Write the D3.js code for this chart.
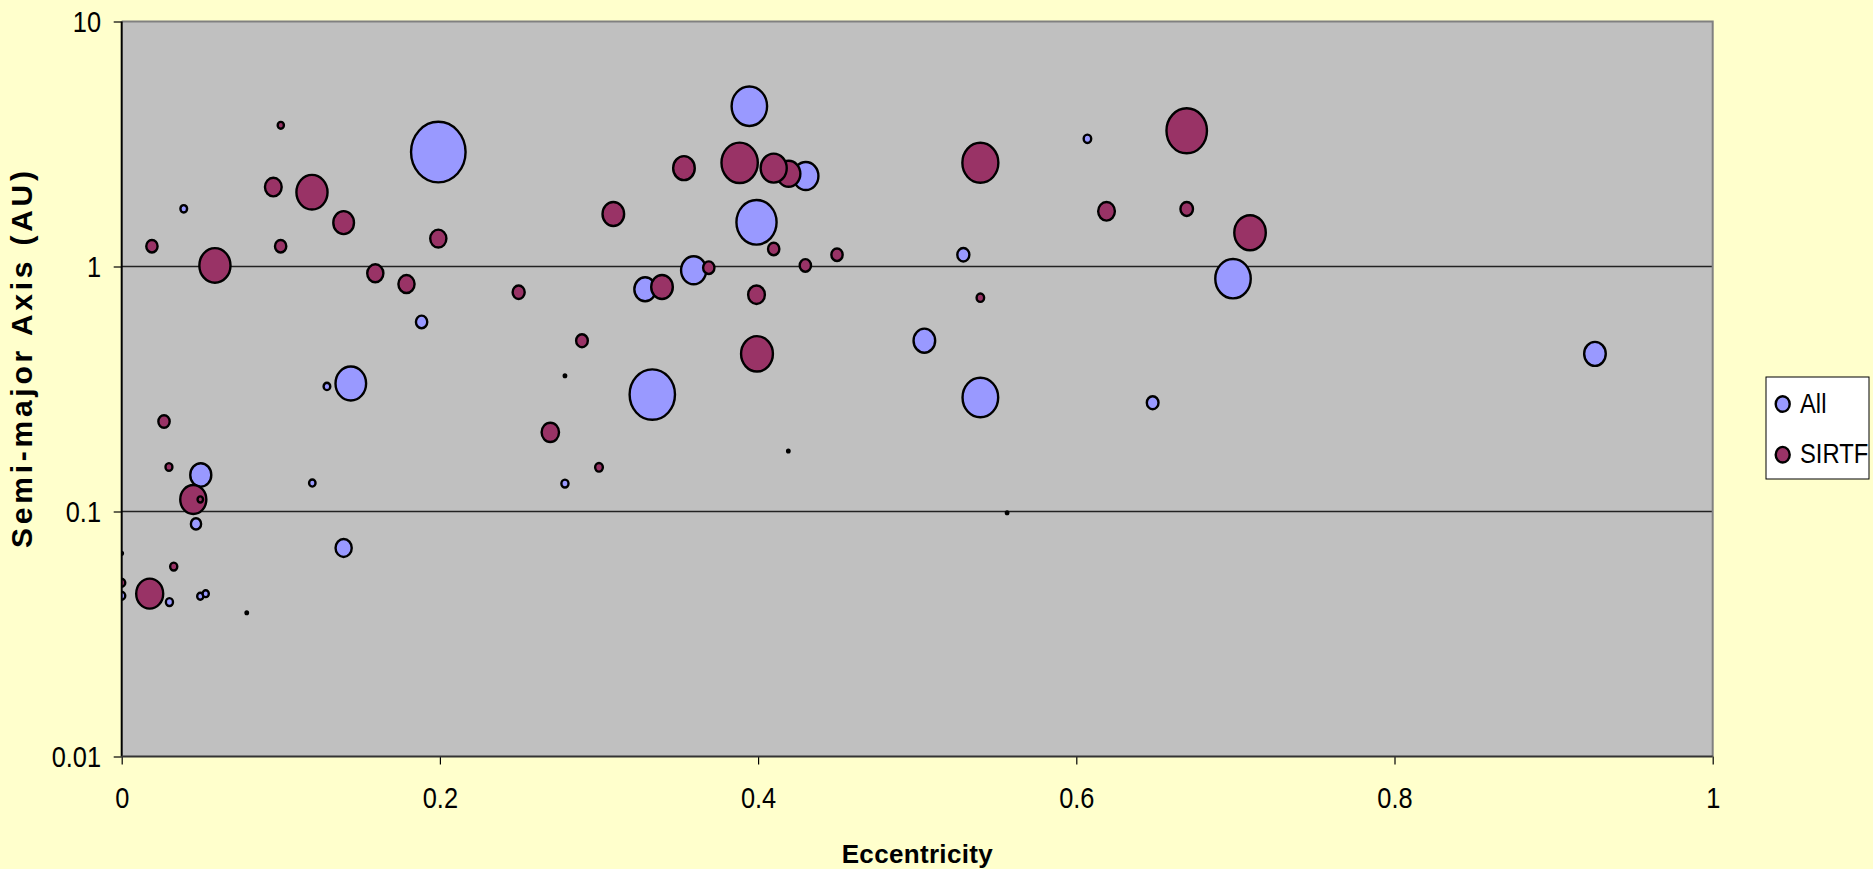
<!DOCTYPE html>
<html>
<head>
<meta charset="utf-8">
<script src="https://cdn.jsdelivr.net/npm/d3@7/dist/d3.min.js"></script>
<style>
  body { margin: 0; background: #FFFFCC; overflow: hidden; }
  text { font-family: "Liberation Sans", Arial, sans-serif; fill: #000; }
</style>
</head>
<body>
<div id="chart"></div>
<script>
// bubble chart: eccentricità vs semiasse maggiore, dimensione = massa
// valori (stime)

const seriesNames = ['All', 'SIRTF'];
const seriesColors = ['#9999FF', '#993366'];

// serie "All": e = eccentricità, a = semiasse (AU), m = dimensione bolla
const allData = [
    { e: 0.039, a: 1.72, m: 0.15 },
    { e: 0.199, a: 2.93, m: 10 },
    { e: 0.1885, a: 0.594, m: 0.43 },
    { e: 0.144, a: 0.333, m: 3.15 },
    { e: 0.129, a: 0.324, m: 0.15 },
    { e: 0.0497, a: 0.141, m: 1.49 },
    { e: 0.0467, a: 0.089, m: 0.35 },
    { e: 0.1198, a: 0.1307, m: 0.14 },
    { e: 0.1395, a: 0.071, m: 0.88 },
    { e: 0.03, a: 0.0427, m: 0.17 },
    { e: 0.0494, a: 0.0451, m: 0.13 },
    { e: 0.0528, a: 0.0462, m: 0.13 },
    { e: 0.0786, a: 0.0386, m: 0.02 },
    { e: 0.0, a: 0.0453, m: 0.17 },
    { e: 0.0, a: 0.0675, m: 0.02 },
    { e: 0.3945, a: 4.51, m: 4.23 },
    { e: 0.430, a: 2.34, m: 2.13 },
    { e: 0.399, a: 1.515, m: 5.42 },
    { e: 0.3595, a: 0.965, m: 2.13 },
    { e: 0.329, a: 0.807, m: 1.57 },
    { e: 0.2786, a: 0.358, m: 0.02 },
    { e: 0.3335, a: 0.300, m: 6.92 },
    { e: 0.5045, a: 0.498, m: 1.57 },
    { e: 0.2786, a: 0.130, m: 0.17 },
    { e: 0.419, a: 0.1766, m: 0.02 },
    { e: 0.607, a: 3.32, m: 0.19 },
    { e: 0.529, a: 1.117, m: 0.49 },
    { e: 0.6985, a: 0.892, m: 4.23 },
    { e: 0.5397, a: 0.292, m: 4.27 },
    { e: 0.648, a: 0.278, m: 0.46 },
    { e: 0.5565, a: 0.0988, m: 0.02 },
    { e: 0.926, a: 0.44, m: 1.57 }
];

// serie "SIRTF"
const sirtfData = [
    { e: 0.100, a: 3.77, m: 0.13 },
    { e: 0.019, a: 1.21, m: 0.43 },
    { e: 0.0586, a: 1.01, m: 3.26 },
    { e: 0.0953, a: 2.11, m: 0.94 },
    { e: 0.1196, a: 2.01, m: 3.26 },
    { e: 0.1395, a: 1.51, m: 1.44 },
    { e: 0.0999, a: 1.21, m: 0.43 },
    { e: 0.199, a: 1.30, m: 0.88 },
    { e: 0.1594, a: 0.938, m: 0.88 },
    { e: 0.179, a: 0.848, m: 0.88 },
    { e: 0.0266, a: 0.233, m: 0.43 },
    { e: 0.0297, a: 0.152, m: 0.16 },
    { e: 0.045, a: 0.112, m: 2.29 },
    { e: 0.0494, a: 0.112, m: 0.10 },
    { e: 0.0327, a: 0.0596, m: 0.17 },
    { e: 0.0176, a: 0.0462, m: 2.45 },
    { e: 0.0, a: 0.0512, m: 0.17 },
    { e: 0.3534, a: 2.52, m: 1.57 },
    { e: 0.3884, a: 2.65, m: 4.44 },
    { e: 0.4192, a: 2.39, m: 1.84 },
    { e: 0.4098, a: 2.52, m: 2.29 },
    { e: 0.309, a: 1.638, m: 1.57 },
    { e: 0.4098, a: 1.179, m: 0.43 },
    { e: 0.4496, a: 1.117, m: 0.43 },
    { e: 0.4297, a: 1.01, m: 0.43 },
    { e: 0.369, a: 0.989, m: 0.43 },
    { e: 0.3396, a: 0.825, m: 1.57 },
    { e: 0.2495, a: 0.785, m: 0.49 },
    { e: 0.399, a: 0.767, m: 0.94 },
    { e: 0.2893, a: 0.498, m: 0.46 },
    { e: 0.3993, a: 0.44, m: 3.41 },
    { e: 0.2694, a: 0.2104, m: 1.02 },
    { e: 0.300, a: 0.1515, m: 0.20 },
    { e: 0.5397, a: 2.65, m: 4.36 },
    { e: 0.6694, a: 3.58, m: 5.51 },
    { e: 0.619, a: 1.68, m: 0.94 },
    { e: 0.6694, a: 1.717, m: 0.53 },
    { e: 0.7092, a: 1.374, m: 3.34 },
    { e: 0.5397, a: 0.746, m: 0.19 }
];

const xTicks = [0, 0.2, 0.4, 0.6, 0.8, 1];
const yTicks = [0.01, 0.1, 1, 10];
const yGrid = [0.1, 1];

const W = 1873, H = 869;
const margin = { top: 21.5, left: 121.7 };
const width = 1591;
const height = 735;
const textSquash = 0.875; // il testo originale è un po' stretto

const svg = d3.select('#chart')
    .append('svg')
    .attr('width', W)
    .attr('height', H);

const g = svg.append('g')
    .attr('transform', `translate(${margin.left},${margin.top})`);

// Scale
const x = d3.scaleLinear().domain([0, 1]).range([0, width]);
const y = d3.scaleLog().domain([0.01, 10]).range([height, 0]);
const r = d3.scaleSqrt().domain([0, 10]).range([0, 30.3]);

// sfondo area del grafico
g.append('rect')
    .attr('width', width)
    .attr('height', height)
    .attr('fill', '#C0C0C0');

// griglia
g.selectAll('.grid')
    .data(yGrid)
    .join('line')
    .attr('class', 'grid')
    .attr('x1', 0)
    .attr('x2', width)
    .attr('y1', d => y(d))
    .attr('y2', d => y(d))
    .attr('stroke', '#222')
    .attr('stroke-width', 1.3);

// bordo sopra e a destra
g.append('path')
    .attr('d', `M0,0H${width}V${height}`)
    .attr('fill', 'none')
    .attr('stroke', '#808080')
    .attr('stroke-width', 2);

// Bolle (clip sull'area)
svg.append('defs').append('clipPath')
    .attr('id', 'plot-clip')
    .append('rect')
    .attr('width', width)
    .attr('height', height);

const bubbles = g.append('g').attr('clip-path', 'url(#plot-clip)');

[allData, sirtfData].forEach((data, i) => {
    bubbles.append('g')
        .selectAll('ellipse')
        .data(data)
        .join('ellipse')
        .attr('cx', d => x(d.e))
        .attr('cy', d => y(d.a))
        .attr('rx', d => r(d.m) * 0.9)
        .attr('ry', d => r(d.m))
        .attr('fill', seriesColors[i])
        .attr('stroke', '#000')
        .attr('stroke-width', 2.4);
});

// Assi
const xAxis = g.append('g')
    .attr('transform', `translate(0,${height})`)
    .call(d3.axisBottom(x).tickValues(xTicks).tickSize(8).tickFormat(d3.format('~g')));

const yAxis = g.append('g')
    .call(d3.axisLeft(y).tickValues(yTicks).tickSize(8).tickFormat(d3.format('~g')));

[xAxis, yAxis].forEach(ax => {
    ax.select('.domain').remove();
    ax.selectAll('.tick line').attr('stroke', '#000').attr('stroke-width', 1.2);
    ax.selectAll('.tick text')
        .attr('font-size', 29)
        .attr('font-family', '"Liberation Sans", Arial, sans-serif')
        .attr('transform', `scale(${textSquash},1)`);
});

xAxis.selectAll('.tick text').attr('y', 51.5).attr('dy', 0);
yAxis.selectAll('.tick text').attr('x', -20.7 / textSquash).attr('dy', '0.35em');

// linee degli assi
g.append('line')
    .attr('x1', 0).attr('x2', 0)
    .attr('y1', 0).attr('y2', height)
    .attr('stroke', '#000')
    .attr('stroke-width', 2);

g.append('line')
    .attr('x1', 0).attr('x2', width)
    .attr('y1', height).attr('y2', height)
    .attr('stroke', '#333')
    .attr('stroke-width', 2);

// Label
svg.append('text')
    .attr('x', margin.left + width / 2)
    .attr('y', 863)
    .attr('text-anchor', 'middle')
    .attr('font-weight', 'bold')
    .attr('font-size', 26)
    .attr('textLength', 151)
    .attr('lengthAdjust', 'spacing')
    .text('Eccentricity');

svg.append('text')
    .attr('transform', 'translate(32,359.5) rotate(-90)')
    .attr('text-anchor', 'middle')
    .attr('font-weight', 'bold')
    .attr('font-size', 30)
    .attr('textLength', 377)
    .attr('lengthAdjust', 'spacing')
    .text('Semi-major Axis (AU)');

// Legenda
const legend = svg.append('g')
    .attr('transform', 'translate(1766,377)');

legend.append('rect')
    .attr('width', 103)
    .attr('height', 102)
    .attr('fill', '#fff')
    .attr('stroke', '#000')
    .attr('stroke-width', 1);

legend.selectAll('.legend-item')
    .data(seriesNames)
    .join('g')
    .attr('class', 'legend-item')
    .attr('transform', (d, i) => `translate(0, ${27 + i * 50.7})`)
    .each(function(d, i) {
        const item = d3.select(this);
        item.append('ellipse')
            .attr('cx', 16.7)
            .attr('rx', 7)
            .attr('ry', 7.8)
            .attr('fill', seriesColors[i])
            .attr('stroke', '#000')
            .attr('stroke-width', 2.4);
        item.append('text')
            .attr('transform', `translate(34,8.7) scale(0.85,1)`)
            .attr('font-size', 28)
            .text(d);
    });
</script>
</body>
</html>
